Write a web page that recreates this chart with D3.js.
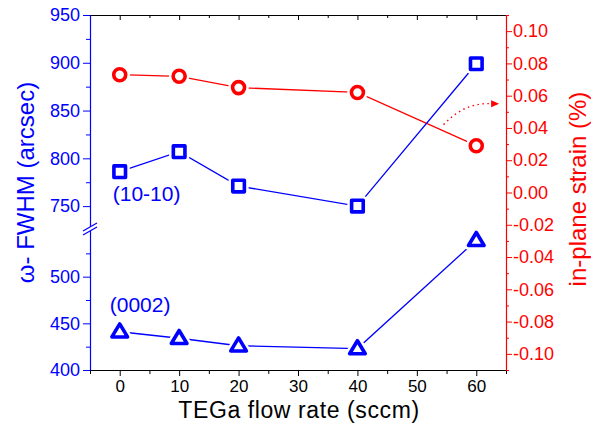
<!DOCTYPE html>
<html>
<head>
<meta charset="utf-8">
<script src="https://cdn.jsdelivr.net/npm/d3@7"></script>
<style>
  body { margin: 0; background: #fff; }
  svg { font-family: Arial, "Liberation Sans", sans-serif; }
</style>
</head>
<body>
<div id="chart"></div>
<script>
// data
const flowRate = [0, 10, 20, 40, 60];
const fwhm1010 = [786, 807, 771, 750, 899];
const fwhm0002 = [441, 434, 426, 423, 539];
const strain = [0.073, 0.072, 0.065, 0.062, 0.029];

const xTicks = [0, 10, 20, 30, 40, 50, 60];
const lowTicks = [400, 450, 500];
const highTicks = [750, 800, 850, 900, 950];
const strainTicks = [-0.10, -0.08, -0.06, -0.04, -0.02, 0.00, 0.02, 0.04, 0.06, 0.08, 0.10];

const BLUE = "#0000ff", RED = "#ff0000";
const width = 591, height = 427;
const plotL = 90, plotR = 506, plotT = 15, plotB = 370, breakY = 230;

const svg = d3.select("#chart").append("svg")
    .attr("width", width)
    .attr("height", height);

const x = d3.scaleLinear().domain([-5, 65]).range([plotL, plotR]);
const yLow = d3.scaleLinear().domain([400, 550]).range([plotB, breakY]);
const yHigh = d3.scaleLinear().domain([725, 950]).range([breakY, plotT]);
const yR = d3.scaleLinear().domain([-0.11, 0.11]).range([plotB, plotT]);

// bottom axis (black, outward ticks)
const xMinor = d3.range(-5, 66, 5).filter(v => v % 10 !== 0);
svg.append("g").attr("transform", `translate(0,${plotB})`)
    .call(d3.axisBottom(x).tickValues(xMinor).tickSize(4).tickFormat("").tickSizeOuter(0))
    .call(g => g.select(".domain").remove());
svg.append("g").attr("transform", `translate(0,${plotB})`)
    .call(d3.axisBottom(x).tickValues(xTicks).tickSize(6).tickPadding(4).tickSizeOuter(0))
    .call(g => g.select(".domain").attr("stroke", "#000").attr("stroke-width", 1.2))
    .call(g => g.selectAll("text").attr("font-size", 17).attr("fill", "#000"));

// top axis (black, inward ticks)
svg.append("g").attr("transform", `translate(0,${plotT})`)
    .call(d3.axisBottom(x).tickValues(xMinor).tickSize(3).tickFormat("").tickSizeOuter(0))
    .call(g => g.select(".domain").remove());
svg.append("g").attr("transform", `translate(0,${plotT})`)
    .call(d3.axisBottom(x).tickValues(xTicks).tickSize(5).tickFormat("").tickSizeOuter(0))
    .call(g => g.select(".domain").attr("stroke", "#000").attr("stroke-width", 1.2));

// left axis, broken in two pieces
function leftAxis(scale, ticks, minor) {
    svg.append("g").attr("transform", `translate(${plotL},0)`)
        .call(d3.axisLeft(scale).tickValues(minor).tickSize(4).tickFormat("").tickSizeOuter(0))
        .call(g => g.select(".domain").remove())
        .call(g => g.selectAll("line").attr("stroke", BLUE));
    svg.append("g").attr("transform", `translate(${plotL},0)`)
        .call(d3.axisLeft(scale).tickValues(ticks).tickSize(7).tickPadding(3).tickSizeOuter(0))
        .call(g => g.select(".domain").attr("stroke", BLUE).attr("stroke-width", 1.2))
        .call(g => g.selectAll("line").attr("stroke", BLUE))
        .call(g => g.selectAll("text").attr("font-size", 18).attr("fill", BLUE));
}
leftAxis(yLow, lowTicks, [425, 475, 525]);
leftAxis(yHigh, highTicks, [775, 825, 875, 925]);

// break mark on the left axis
svg.append("path")
    .attr("d", `M${plotL - 7},${breakY + 5} L${plotL + 7},${breakY - 3} L${plotL + 7},${breakY - 7} L${plotL - 7},${breakY + 1} Z`)
    .attr("fill", "#fff");
svg.append("g").selectAll("line")
    .data([-2, 2])
    .join("line")
    .attr("x1", plotL - 7).attr("x2", plotL + 7)
    .attr("y1", d => breakY + 3 + d).attr("y2", d => breakY - 5 + d)
    .attr("stroke", BLUE).attr("stroke-width", 1.2);

// right axis (red)
svg.append("g").attr("transform", `translate(${plotR},0)`)
    .call(d3.axisRight(yR).tickValues(d3.range(-11, 12).filter(v => v % 2 !== 0).map(v => v / 100))
        .tickSize(3).tickFormat("").tickSizeOuter(0))
    .call(g => g.select(".domain").remove())
    .call(g => g.selectAll("line").attr("stroke", RED));
svg.append("g").attr("transform", `translate(${plotR},0)`)
    .call(d3.axisRight(yR).tickValues(strainTicks).tickSize(6).tickPadding(1)
        .tickFormat(d => d3.format(".2f")(d).replace("−", "-")).tickSizeOuter(0))
    .call(g => g.select(".domain").attr("stroke", RED).attr("stroke-width", 1.2))
    .call(g => g.selectAll("line").attr("stroke", RED))
    .call(g => g.selectAll("text").attr("font-size", 18).attr("fill", RED));

// axis titles
svg.append("text")
    .attr("x", (plotL + plotR) / 2 + 1).attr("y", 418)
    .attr("text-anchor", "middle")
    .attr("font-size", 23)
    .attr("letter-spacing", 0.6)
    .text("TEGa flow rate (sccm)");

svg.append("text")
    .attr("transform", `translate(34,${(75 + 290) / 2}) rotate(-90)`)
    .attr("text-anchor", "middle")
    .attr("font-size", 24)
    .attr("fill", BLUE)
    .text("ω- FWHM (arcsec)");

svg.append("text")
    .attr("transform", `translate(586,${(85 + 293) / 2}) rotate(-90)`)
    .attr("text-anchor", "middle")
    .attr("font-size", 24)
    .attr("fill", RED)
    .text("in-plane strain (%)");

// series
function drawSeries(values, yScale, color, shape) {
    const pts = flowRate.map((f, i) => [x(f), yScale(values[i])]);
    svg.append("path")
        .attr("d", d3.line()(pts))
        .attr("fill", "none")
        .attr("stroke", color)
        .attr("stroke-width", 1.3);

    const g = svg.append("g").selectAll("g")
        .data(pts)
        .join("g")
        .attr("transform", d => `translate(${d[0]},${d[1]})`);

    let shapePath;
    if (shape === "square") shapePath = "M-5.8,-5.8H5.8V5.8H-5.8Z";
    else if (shape === "triangle") shapePath = "M0,-7.8L7.8,5.2L-7.8,5.2Z";
    else shapePath = d3.arc()({ innerRadius: 0, outerRadius: 6, startAngle: 0, endAngle: 2 * Math.PI });

    // white halo so the line stops short of the marker
    g.append("path").attr("d", shapePath)
        .attr("fill", "#fff").attr("stroke", "#fff").attr("stroke-width", 8.5)
        .attr("stroke-linejoin", "round");
    g.append("path").attr("d", shapePath)
        .attr("fill", "#fff").attr("stroke", color).attr("stroke-width", 3.6)
        .attr("stroke-linejoin", "round");
}

drawSeries(strain, yR, RED, "circle");
drawSeries(fwhm1010, yHigh, BLUE, "square");
drawSeries(fwhm0002, yLow, BLUE, "triangle");

// reflection labels
svg.append("text")
    .attr("x", x(0) - 7).attr("y", yHigh(755))
    .attr("font-size", 21).attr("fill", BLUE)
    .text("(10-10)");
svg.append("text")
    .attr("x", x(0) - 10).attr("y", yLow(462))
    .attr("font-size", 21).attr("fill", BLUE)
    .text("(0002)");

// dotted arrow pointing the red curve to the right axis
const arrowStart = [x(54.5), yR(0.042)];
const arrowCtrl = [x(58), yR(0.056)];
const arrowEnd = [x(62.5), yR(0.055)];
svg.append("path")
    .attr("d", `M${arrowStart[0]},${arrowStart[1]} Q${arrowCtrl[0]},${arrowCtrl[1]} ${arrowEnd[0]},${arrowEnd[1]}`)
    .attr("fill", "none")
    .attr("stroke", RED)
    .attr("stroke-width", 1.4)
    .attr("stroke-dasharray", "1.5,3.5");
svg.append("path")
    .attr("d", `M${arrowEnd[0] + 8},${arrowEnd[1]} L${arrowEnd[0]},${arrowEnd[1] - 3.5} L${arrowEnd[0]},${arrowEnd[1] + 3.5} Z`)
    .attr("fill", RED);
</script>
</body>
</html>
